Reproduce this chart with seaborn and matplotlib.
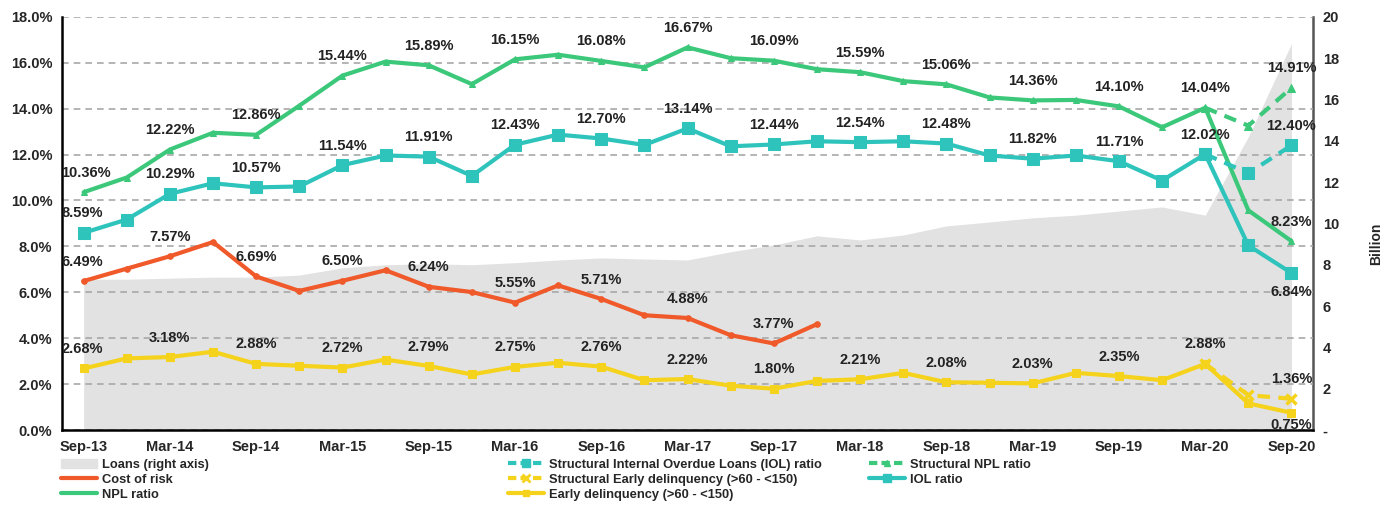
import numpy as np
import pandas as pd
import seaborn as sns
import matplotlib
matplotlib.use("Agg")
import matplotlib.pyplot as plt
from matplotlib.lines import Line2D
from matplotlib.patches import Patch

# quarterly data, Sep-13 .. Sep-20
quarters = ['Sep-13', 'Dec-13', 'Mar-14', 'Jun-14', 'Sep-14', 'Dec-14', 'Mar-15', 'Jun-15',
            'Sep-15', 'Dec-15', 'Mar-16', 'Jun-16', 'Sep-16', 'Dec-16', 'Mar-17', 'Jun-17',
            'Sep-17', 'Dec-17', 'Mar-18', 'Jun-18', 'Sep-18', 'Dec-18', 'Mar-19', 'Jun-19',
            'Sep-19', 'Dec-19', 'Mar-20', 'Jun-20', 'Sep-20']

npl = [10.36, 11.00, 12.22, 12.95, 12.86, 14.13, 15.44, 16.05, 15.89, 15.07, 16.15, 16.35,
       16.08, 15.80, 16.67, 16.20, 16.09, 15.72, 15.59, 15.20, 15.06, 14.49, 14.36, 14.38,
       14.10, 13.19, 14.04, 9.57, 8.23]
iol = [8.59, 9.17, 10.29, 10.75, 10.57, 10.61, 11.54, 11.96, 11.91, 11.07, 12.43, 12.87,
       12.70, 12.42, 13.14, 12.36, 12.44, 12.58, 12.54, 12.58, 12.48, 11.96, 11.82, 11.96,
       11.71, 10.87, 12.02, 8.04, 6.84]
cost_of_risk = [6.49, 7.03, 7.57, 8.19, 6.69, 6.06, 6.50, 6.96, 6.24, 6.01, 5.55, 6.30,
                5.71, 5.00, 4.88, 4.13, 3.77, 4.61]
early_del = [2.68, 3.12, 3.18, 3.41, 2.88, 2.80, 2.72, 3.07, 2.79, 2.42, 2.75, 2.93,
             2.76, 2.17, 2.22, 1.93, 1.80, 2.14, 2.21, 2.49, 2.08, 2.06, 2.03, 2.49,
             2.35, 2.17, 2.88, 1.16, 0.75]
# structural series (Mar-20 .. Sep-20)
struct_npl = [14.04, 13.26, 14.91]
struct_iol = [12.02, 11.19, 12.40]
struct_early = [2.88, 1.52, 1.36]
# loans, billion (right axis)
loans = [7.30, 7.30, 7.35, 7.40, 7.40, 7.50, 7.85, 8.00, 8.05, 8.00, 8.10, 8.23, 8.33, 8.28,
         8.23, 8.63, 8.96, 9.40, 9.20, 9.44, 9.88, 10.07, 10.27, 10.40, 10.60, 10.80, 10.40,
         14.20, 18.70]

c_npl = '#3cc87a'
c_iol = '#2ec4bc'
c_cor = '#f0592a'
c_early = '#f5d21c'
c_loans = '#e2e2e2'

sns.set_style("white")
plt.rcParams['font.family'] = ['Liberation Sans', 'DejaVu Sans']
plt.rcParams['font.weight'] = 'bold'

x = np.arange(len(quarters))
df = pd.DataFrame({'x': x, 'npl': npl, 'iol': iol, 'early': early_del, 'loans': loans})
df_cor = pd.DataFrame({'x': x[:len(cost_of_risk)], 'cor': cost_of_risk})
df_st = pd.DataFrame({'x': x[-3:], 'npl': struct_npl, 'iol': struct_iol, 'early': struct_early})

fig = plt.figure(figsize=(13.88, 5.11), dpi=100)
ax = fig.add_axes([0.0447, 0.1585, 0.9013, 0.8085])
ax2 = ax.twinx()

# loans area on the right axis
ax2.fill_between(df['x'], df['loans'], color=c_loans, lw=0)
ax2.set_ylim(0, 20)
ax2.set_yticks(range(0, 21, 2))
ax2.set_yticklabels(['-'] + [str(v) for v in range(2, 21, 2)])
ax2.set_ylabel('Billion', fontsize=10, fontweight='bold')
ax2.yaxis.set_label_coords(1.045, 0.45)

ax.set_zorder(ax2.get_zorder() + 1)
ax.patch.set_visible(False)

lw = 3
sns.lineplot(data=df, x='x', y='npl', ax=ax, color=c_npl, lw=lw, marker='^', ms=5, mec=c_npl)
sns.lineplot(data=df, x='x', y='iol', ax=ax, color=c_iol, lw=lw, marker='s', ms=8, mec=c_iol)
sns.lineplot(data=df_cor, x='x', y='cor', ax=ax, color=c_cor, lw=lw, marker='o', ms=4, mec=c_cor)
sns.lineplot(data=df, x='x', y='early', ax=ax, color=c_early, lw=lw, marker='s', ms=6, mec=c_early)
sns.lineplot(data=df_st, x='x', y='npl', ax=ax, color=c_npl, lw=lw, ls=(0, (3, 2)),
             marker='^', ms=6, mec=c_npl)
sns.lineplot(data=df_st, x='x', y='iol', ax=ax, color=c_iol, lw=lw, ls=(0, (3, 2)),
             marker='s', ms=8, mec=c_iol)
sns.lineplot(data=df_st, x='x', y='early', ax=ax, color=c_early, lw=lw, ls=(0, (3, 2)),
             marker='x', ms=7, mew=2.5, mec=c_early)

ax.set_ylim(0, 18)
ax.set_xlim(-0.5, 28.5)
ax.set_yticks(np.arange(0, 18.1, 2))
ax.set_yticklabels([f'{v:.1f}%' for v in np.arange(0, 18.1, 2)])
ax.set_xticks(x[::2])
ax.set_xticklabels(quarters[::2])
ax.set_xlabel('')
ax.set_ylabel('')
ax.grid(axis='y', color='#a8a8a8', ls=(0, (4, 3)), lw=1.2)
ax.grid(axis='x', visible=False)
ax2.grid(False)

for a in (ax, ax2):
    a.tick_params(length=0, labelsize=10.5, pad=7)
    a.spines['top'].set_visible(False)
ax.spines['left'].set_color('black')
ax.spines['left'].set_linewidth(1.8)
ax.spines['bottom'].set_color('black')
ax.spines['bottom'].set_linewidth(1.8)
ax.spines['right'].set_visible(False)
ax2.spines['left'].set_visible(False)
ax2.spines['bottom'].set_visible(False)
ax2.spines['right'].set_color('#555555')
ax2.spines['right'].set_linewidth(1.8)


def label(xi, yi, dy=14, ha='center', dx=0):
    ax.annotate(f'{yi:.2f}%', (xi, yi), xytext=(dx, dy), textcoords='offset points',
                ha=ha, va='center', fontsize=10.5, fontweight='bold', color='#222222')


for series in (npl, iol, early_del):
    for i in range(0, 27, 2):
        if i == 0:
            label(i, series[i], ha='left', dx=-16)
        else:
            label(i, series[i])
for i in range(0, len(cost_of_risk), 2):
    if i == 0:
        label(i, cost_of_risk[i], ha='left', dx=-16)
    else:
        label(i, cost_of_risk[i])

# end-of-period labels
label(28, struct_npl[-1])
label(28, struct_iol[-1])
label(28, npl[-1])
label(28, iol[-1], dy=-14)
label(28, struct_early[-1])
label(28, early_del[-1], dy=-9)

# legend in three blocks
leg_kw = dict(frameon=False, fontsize=9.3, handlelength=2.8, handletextpad=0.35,
              labelspacing=0.22, borderpad=0, borderaxespad=0)
h1 = [Patch(color=c_loans), Line2D([], [], color=c_cor, lw=lw), Line2D([], [], color=c_npl, lw=lw)]
l1 = ['Loans (right axis)', 'Cost of risk', 'NPL ratio']
h2 = [Line2D([], [], color=c_iol, lw=lw, ls=(0, (2, 1)), marker='s', ms=6),
      Line2D([], [], color=c_early, lw=lw, ls=(0, (2, 1)), marker='x', ms=6, mew=2),
      Line2D([], [], color=c_early, lw=lw, marker='s', ms=5)]
l2 = ['Structural Internal Overdue Loans (IOL) ratio', 'Structural Early delinquency (>60 - <150)',
      'Early delinquency (>60 - <150)']
h3 = [Line2D([], [], color=c_npl, lw=lw, ls=(0, (2, 1)), marker='^', ms=4),
      Line2D([], [], color=c_iol, lw=lw, marker='s', ms=6)]
l3 = ['Structural NPL ratio', 'IOL ratio']
lg1 = fig.legend(h1, l1, loc='upper left', bbox_to_anchor=(0.044, 0.102), **leg_kw)
lg2 = fig.legend(h2, l2, loc='upper left', bbox_to_anchor=(0.366, 0.102), **leg_kw)
lg3 = fig.legend(h3, l3, loc='upper left', bbox_to_anchor=(0.626, 0.102), **leg_kw)

fig.savefig('out.png', dpi=100)
